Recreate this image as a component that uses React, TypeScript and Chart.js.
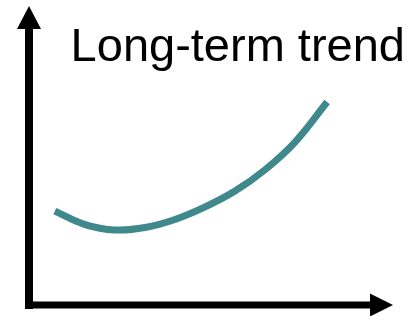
import React, { useEffect, useRef } from "react";
import { Chart, registerables } from "chart.js";

Chart.register(...registerables);

const titleText = "Long-term trend";
const timeValues = [0.71, 1.54, 2.36, 3.19, 4.01, 4.84, 5.66, 6.48, 7.31, 8.19];
const trendValues = [3.14, 2.69, 2.51, 2.59, 2.86, 3.28, 3.81, 4.52, 5.45, 6.79];

const axesPlugin = {
  id: "arrowAxes",
  beforeDatasetsDraw(chart: any) {
    const { ctx, chartArea } = chart;
    const { left, right, top, bottom } = chartArea;
    ctx.save();
    ctx.fillStyle = "#000";
    ctx.fillRect(left - 4, top + 22, 8, bottom + 4 - (top + 22));
    ctx.beginPath();
    ctx.moveTo(left, top);
    ctx.lineTo(left + 12, top + 23);
    ctx.lineTo(left - 12, top + 23);
    ctx.closePath();
    ctx.fill();
    ctx.fillRect(left - 4, bottom - 3.5, right - 22 - (left - 4), 7);
    ctx.beginPath();
    ctx.moveTo(right, bottom);
    ctx.lineTo(right - 23, bottom - 11.5);
    ctx.lineTo(right - 23, bottom + 11.5);
    ctx.closePath();
    ctx.fill();
    ctx.font = '47px "Liberation Sans", Arial, sans-serif';
    ctx.textAlign = "right";
    ctx.textBaseline = "alphabetic";
    ctx.fillText(titleText, 405, 61);
    ctx.restore();
  },
};

export default function App() {
  const ref = useRef<HTMLCanvasElement>(null);
  useEffect(() => {
    document.body.style.margin = "0";
    const chart = new Chart(ref.current!, {
      type: "line",
      data: {
        datasets: [
          {
            data: timeValues.map((x, i) => ({ x, y: trendValues[i] })),
            borderColor: "#3f898c",
            borderWidth: 7,
            pointRadius: 0,
            tension: 0.4,
            fill: false,
          },
        ],
      },
      options: {
        animation: false,
        responsive: false,
        maintainAspectRatio: false,
        layout: { padding: { left: 29, right: 17, top: 6, bottom: 11 } },
        plugins: { legend: { display: false }, tooltip: { enabled: false }, title: { display: false } },
        scales: {
          x: { type: "linear", min: 0, max: 10, display: false },
          y: { type: "linear", min: 0, max: 10, display: false },
        },
      },
      plugins: [axesPlugin],
    });
    return () => chart.destroy();
  }, []);
  return (
    <div style={{ position: "fixed", left: 0, top: 0, width: 410, height: 316, background: "#fff" }}>
      <canvas ref={ref} width={410} height={316} style={{ width: 410, height: 316, display: "block" }} />
    </div>
  );
}
